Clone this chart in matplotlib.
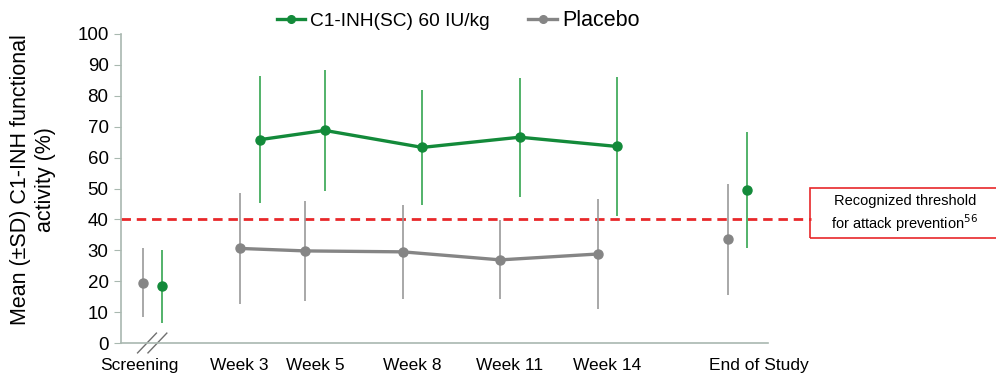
import matplotlib
matplotlib.use("Agg")
import matplotlib.pyplot as plt
from matplotlib.lines import Line2D
from matplotlib.patches import Rectangle
import matplotlib.transforms as mtransforms

plt.rcParams['font.family'] = ['Liberation Sans', 'DejaVu Sans']

# Visits, placed on a study-week axis
visits = ["Screening", "Week 3", "Week 5", "Week 8", "Week 11", "Week 14", "End of Study"]
visit_weeks = [0, 3, 5, 8, 11, 14, 18]

# Mean and SD of C1-INH functional activity (%)
c1_mean = [18.3, 65.8, 68.8, 63.3, 66.6, 63.6, 49.4]
c1_sd = [11.8, 20.6, 19.6, 18.5, 19.2, 22.4, 18.8]
pbo_mean = [19.5, 30.6, 29.8, 29.5, 26.9, 28.8, 33.6]
pbo_sd = [11.1, 18.0, 16.3, 15.2, 12.8, 17.7, 18.0]

threshold = 40
c1_label = "C1-INH(SC) 60 IU/kg"
pbo_label = "Placebo"

GREEN = "#138a3a"
GREEN_BAR = "#35a550"
GRAY = "#858585"
GRAY_BAR = "#999999"
SPINE = "#a9b8b0"

fig = plt.figure(figsize=(9.96, 3.74), dpi=100)
ax = fig.add_axes([121 / 996, 31 / 374, 647 / 996, 309 / 374])

off = 0.3
xg = [w - off for w in visit_weeks]
xc = [w + off for w in visit_weeks]

# error bars
ax.errorbar(xg, pbo_mean, yerr=pbo_sd, fmt="none", ecolor=GRAY_BAR, elinewidth=1.2, capsize=0, zorder=2)
ax.errorbar(xc, c1_mean, yerr=c1_sd, fmt="none", ecolor=GREEN_BAR, elinewidth=1.2, capsize=0, zorder=2)

# connected treatment-period lines (Week 3 .. Week 14)
ax.plot(xg[1:6], pbo_mean[1:6], color=GRAY, lw=2.4, zorder=3)
ax.plot(xc[1:6], c1_mean[1:6], color=GREEN, lw=2.4, zorder=3)

# markers for every visit
ax.plot(xg, pbo_mean, "o", color=GRAY, ms=6.5, zorder=4)
ax.plot(xc, c1_mean, "o", color=GREEN, ms=6.5, zorder=4)

ax.set_xlim(-0.97, 18.94)
ax.set_ylim(0, 100)
ax.set_yticks(range(0, 101, 10))
ax.tick_params(axis="y", labelsize=13.5, length=5, color=SPINE, pad=4)
ax.set_xticks([])
for s in ["top", "right"]:
    ax.spines[s].set_visible(False)
for s in ["left", "bottom"]:
    ax.spines[s].set_color(SPINE)
    ax.spines[s].set_linewidth(1.2)

# x category labels
trans = mtransforms.blended_transform_factory(ax.transData, ax.transAxes)
label_shift = {"Screening": -0.4, "Week 3": -0.33, "End of Study": 0.65}
for name, w in zip(visits, visit_weeks):
    ax.text(w + label_shift.get(name, 0.0), -0.05, name, transform=trans,
            ha="center", va="top", fontsize=12.5)

# axis break marks at the screening visit
for dx in (-0.17, 0.15):
    ax.plot([dx - 0.29, dx + 0.29], [-0.032, 0.032], transform=trans, color="#707070",
            lw=1.0, clip_on=False)

fig.text(33 / 996, 1 - 180 / 374, "Mean (\u00b1SD) C1-INH functional\nactivity (%)",
         rotation=90, ha="center", va="center", fontsize=15.5, linespacing=1.2)

# threshold line and callout
ax.plot([-0.97, 20.25], [threshold, threshold], ls=(0, (3.4, 2.1)), color="#e8282a", lw=2.0,
        clip_on=False, zorder=1)
box = Rectangle((810 / 996, 136 / 374), 190 / 996, 50 / 374, transform=fig.transFigure,
                fill=False, edgecolor="#e8282a", lw=1.2)
fig.add_artist(box)
fig.text(905 / 996, 1 - 214 / 374, "Recognized threshold\nfor attack prevention$^{56}$",
         ha="center", va="center", fontsize=10.5, linespacing=1.3,
         family=["Liberation Sans Narrow", "Liberation Sans", "DejaVu Sans"])

# legend
handles = [Line2D([], [], color=GREEN, lw=2.4, marker="o", ms=5.5),
           Line2D([], [], color=GRAY, lw=2.4, marker="o", ms=5.5)]
leg = fig.legend(handles, [c1_label, pbo_label], loc="center", bbox_to_anchor=(458 / 996, 1 - 20 / 374),
                 ncol=2, frameon=False, fontsize=13.8, handlelength=1.5, handletextpad=0.25,
                 columnspacing=2.0)
leg.get_texts()[1].set_fontsize(15.5)

fig.savefig("out.png", dpi=100)
